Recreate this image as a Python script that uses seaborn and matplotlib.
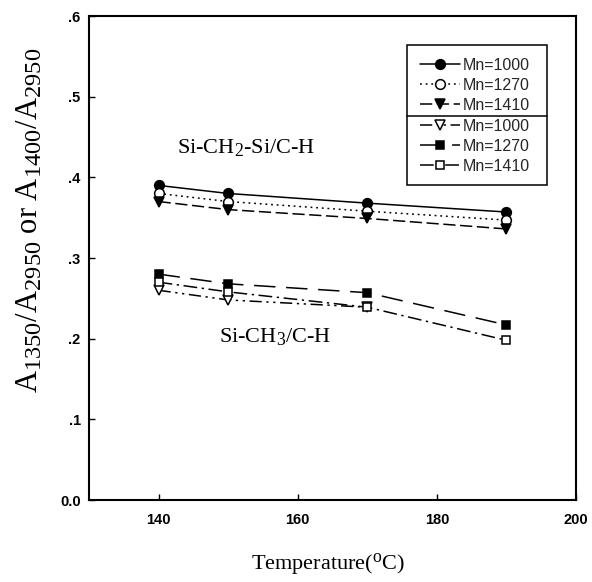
import numpy as np
import pandas as pd
import matplotlib
matplotlib.use("Agg")
import matplotlib.pyplot as plt
from matplotlib.patches import Rectangle
from matplotlib.lines import Line2D
import seaborn as sns

try:
    import matplotlib._mathtext as _mt
    _mt.SHRINK_FACTOR = 0.8
except Exception:
    pass

temps = [140, 150, 170, 190]
upper_mn1000 = [0.390, 0.380, 0.368, 0.357]
upper_mn1270 = [0.380, 0.370, 0.358, 0.347]
upper_mn1410 = [0.370, 0.360, 0.349, 0.336]
lower_mn1000 = [0.260, 0.248, 0.239, np.nan]
lower_mn1270 = [0.280, 0.268, 0.257, 0.217]
lower_mn1410 = [0.270, 0.258, 0.239, 0.198]

xticks = [140, 160, 180, 200]
xticklabels = ["140", "160", "180", "200"]
yticks = [0.0, 0.1, 0.2, 0.3, 0.4, 0.5, 0.6]
yticklabels = ["0.0", ".1", ".2", ".3", ".4", ".5", ".6"]

sns.set_theme(style="white")
plt.rcParams['font.family'] = ['Liberation Sans', 'DejaVu Sans']

fig = plt.figure(figsize=(5.92, 5.82), dpi=100)
L, R, T, B = 89, 576, 16, 500
ax = fig.add_axes([L/592, 1-B/582, (R-L)/592, (B-T)/582])

series = [
    ("Mn=1000", upper_mn1000, dict(marker="o", mfc="black", ls="-")),
    ("Mn=1270", upper_mn1270, dict(marker="o", mfc="white", ls=(0, (1.2, 2.5)))),
    ("Mn=1410", upper_mn1410, dict(marker="v", mfc="black", ls=(0, (8, 3)))),
    ("Mn=1000", lower_mn1000, dict(marker="v", mfc="white", ls=(0, (8, 3, 1.5, 3, 1.5, 3)))),
    ("Mn=1270", lower_mn1270, dict(marker="s", mfc="black", ls=(0, (14, 7)))),
    ("Mn=1410", lower_mn1410, dict(marker="s", mfc="white", ls=(0, (9, 3, 1.5, 3)))),
]

handles = []
for i, (lab, vals, st) in enumerate(series):
    df = pd.DataFrame({"T": temps, "v": vals})
    n_before = len(ax.lines)
    sns.lineplot(data=df, x="T", y="v", ax=ax, color="black", linewidth=1.1,
                 marker=st["marker"], markersize=7 if st["marker"] != "s" else 6,
                 markerfacecolor=st["mfc"], markeredgecolor="black",
                 markeredgewidth=1.1, linestyle=st["ls"], label=lab,
                 zorder=3 + (0 if i == 3 else 1))
    handles.append(ax.lines[n_before])

if ax.get_legend() is not None:
    ax.get_legend().remove()

ax.set_xlim(130, 200)
ax.set_ylim(0, 0.6)
ax.set_xticks(xticks)
ax.set_xticklabels(xticklabels)
ax.set_yticks(yticks)
ax.set_yticklabels(yticklabels)
ax.tick_params(axis="both", direction="in", length=4, width=1, labelsize=10.5,
               color="black", labelcolor="black", top=False, right=False,
               bottom=True, left=True)
ax.tick_params(axis="x", pad=9)
ax.tick_params(axis="y", pad=6)
for lbl in ax.get_xticklabels() + ax.get_yticklabels():
    lbl.set_fontweight("bold")
for sp in ax.spines.values():
    sp.set_color("black")
    sp.set_linewidth(1.5)

serif = ['Liberation Serif', 'DejaVu Serif']
ax.set_xlabel("Temperature($\\mathregular{^o}$C)", fontsize=16, family=serif,
              color="black")
ax.xaxis.set_label_coords((328 - L) / (R - L), (B - 551) / (B - T))
ax.set_ylabel("A$\\mathregular{_{1350}}$/A$\\mathregular{_{2950}}$ or A$\\mathregular{_{1400}}$/A$\\mathregular{_{2950}}$",
              fontsize=22, family=serif, color="black")
ax.yaxis.set_label_coords((45 - L) / (R - L), (B - 220) / (B - T))

ax.text(142.6, 0.437, "Si-CH$\\mathregular{_2}$-Si/C-H", fontsize=16, family=serif,
        va="center", ha="left", color="black")
ax.text(148.7, 0.203, "Si-CH$\\mathregular{_3}$/C-H", fontsize=16, family=serif,
        va="center", ha="left", color="black")

def fx(px):
    return (px - L) / (R - L)

def fy(py):
    return (B - py) / (B - T)

# legend frame and divider
ax.add_patch(Rectangle((fx(407), fy(185)), fx(547) - fx(407), fy(45) - fy(185),
                       transform=ax.transAxes, fill=True, facecolor="white",
                       edgecolor="black", linewidth=1.1, zorder=5))
ax.add_line(Line2D([fx(407), fx(547)], [fy(116), fy(116)], transform=ax.transAxes,
                   color="black", linewidth=1.1, zorder=6))

leg_kw = dict(fontsize=11.5, frameon=False, handlelength=2.5, handletextpad=0.15,
              labelspacing=0.3, borderaxespad=0, borderpad=0)
leg1 = ax.legend(handles=handles[:3], labels=[s[0] for s in series[:3]],
                 loc="upper left", bbox_to_anchor=(fx(420), fy(58)), **leg_kw)
leg1.set_zorder(7)
ax.add_artist(leg1)
leg2 = ax.legend(handles=handles[3:], labels=[s[0] for s in series[3:]],
                 loc="upper left", bbox_to_anchor=(fx(420), fy(119)), **leg_kw)
leg2.set_zorder(7)

fig.savefig("out.png", dpi=100, facecolor="white")
